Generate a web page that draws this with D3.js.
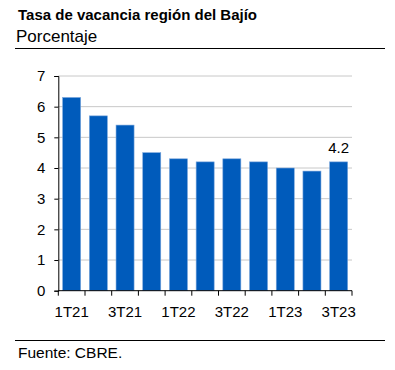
<html lang="es">
<head>
    <meta charset="UTF-8">
    <script src="https://d3js.org/d3.v7.min.js"></script>
    <title>Tasa de vacancia</title>
    <style>
        body { margin: 0; background: #fff; }
        svg { font-family: "Liberation Sans", Arial, sans-serif; }
    </style>
</head>
<body>
    <section></section>
    <script>
        const quarters = ['1T21', '2T21', '3T21', '4T21', '1T22', '2T22', '3T22', '4T22', '1T23', '2T23', '3T23'];
        const vacancy = [6.3, 5.7, 5.4, 4.5, 4.3, 4.2, 4.3, 4.2, 4.0, 3.9, 4.2];
        const yTicks = [0, 1, 2, 3, 4, 5, 6, 7];
        const shownLabels = ['1T21', '3T21', '1T22', '3T22', '1T23', '3T23'];

        const w = 395, h = 370;
        const pLeft = 58.3, pRight = 352, pTop = 76, pBottom = 290.7;

        const svg = d3.select('section').append('svg')
            .attr('width', w)
            .attr('height', h);

        // title block
        svg.append('text').attr('x', 18).attr('y', 20)
            .style('font-size', '15px').style('font-weight', 'bold')
            .text('Tasa de vacancia región del Bajío');
        svg.append('text').attr('x', 16).attr('y', 42)
            .style('font-size', '17px')
            .text('Porcentaje');
        svg.append('line').attr('x1', 15).attr('x2', 385).attr('y1', 48.5).attr('y2', 48.5)
            .attr('stroke', '#000').attr('stroke-width', 1);

        const x = d3.scaleBand().domain(quarters).range([pLeft, pRight]).paddingInner(0.325).paddingOuter(0.1625);
        const y = d3.scaleLinear().domain([0, 7]).range([pBottom, pTop]);

        // gridlines
        svg.append('g').selectAll('line')
            .data(yTicks.filter(d => d > 0))
            .join('line')
            .attr('x1', pLeft).attr('x2', pRight)
            .attr('y1', d => y(d)).attr('y2', d => y(d))
            .attr('stroke', '#c8c8c8').attr('stroke-width', 1);

        // bars
        svg.append('g').selectAll('rect')
            .data(quarters)
            .join('rect')
            .attr('x', d => x(d))
            .attr('width', x.bandwidth())
            .attr('y', (d, i) => y(vacancy[i]))
            .attr('height', (d, i) => y(0) - y(vacancy[i]))
            .attr('fill', '#005bbb')
            .attr('stroke', '#7aa6dc')
            .attr('stroke-width', 0.6);

        // y axis
        const yAxis = svg.append('g')
            .attr('transform', `translate(${pLeft},0)`)
            .call(d3.axisLeft(y).tickValues(yTicks).tickSize(4).tickPadding(9).tickFormat(d3.format('d')));
        yAxis.select('.domain').attr('stroke', '#000');
        yAxis.selectAll('text').style('font-size', '15px').attr('fill', '#000');

        // x axis with ticks at band boundaries
        const xg = svg.append('g').attr('transform', `translate(0,${pBottom})`);
        xg.append('line').attr('x1', pLeft).attr('x2', pRight).attr('stroke', '#000');
        const step = x.step();
        xg.selectAll('.tk')
            .data(d3.range(quarters.length + 1))
            .join('line')
            .attr('class', 'tk')
            .attr('x1', i => pLeft + i * step).attr('x2', i => pLeft + i * step)
            .attr('y1', 0).attr('y2', 5)
            .attr('stroke', '#000');
        xg.selectAll('text')
            .data(shownLabels)
            .join('text')
            .attr('x', d => x(d) + x.bandwidth() / 2)
            .attr('y', 26)
            .attr('text-anchor', 'middle')
            .style('font-size', '15px')
            .text(d => d);

        // last value label
        const lastQ = quarters[quarters.length - 1];
        svg.append('text')
            .attr('x', x(lastQ) + x.bandwidth() / 2)
            .attr('y', y(vacancy[vacancy.length - 1]) - 9)
            .attr('text-anchor', 'middle')
            .style('font-size', '15px')
            .text(vacancy[vacancy.length - 1].toFixed(1));

        // source
        svg.append('line').attr('x1', 15).attr('x2', 385).attr('y1', 340.5).attr('y2', 340.5)
            .attr('stroke', '#000').attr('stroke-width', 1);
        svg.append('text').attr('x', 18).attr('y', 358)
            .style('font-size', '15.5px')
            .text('Fuente: CBRE.');
    </script>
</body>
</html>
